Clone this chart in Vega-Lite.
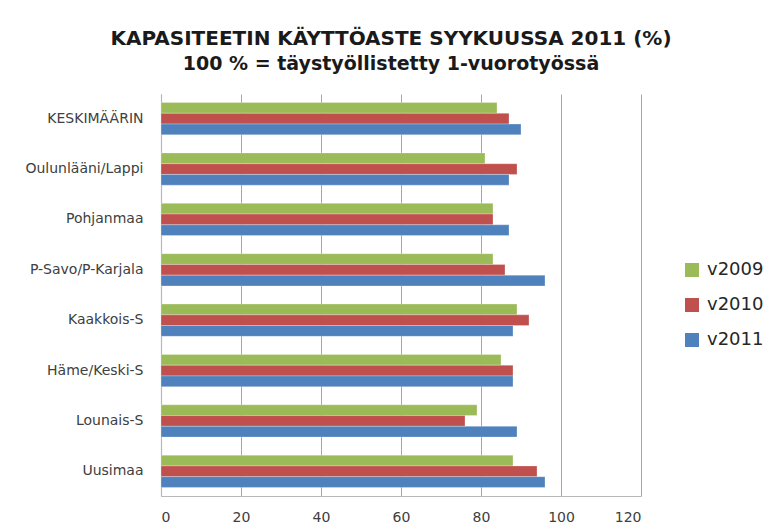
{
  "$schema": "https://vega.github.io/schema/vega-lite/v6.json",
  "autosize": {"type": "none"},
  "width": 480,
  "height": 402,
  "padding": {"left": 161, "top": 94, "right": 137, "bottom": 31},
  "background": "white",
  "title": {
    "text": "KAPASITEETIN KÄYTTÖASTE SYYKUUSSA 2011 (%)",
    "subtitle": "100 % = täystyöllistetty 1-vuorotyössä",
    "font": "DejaVu Sans",
    "fontSize": 20,
    "fontWeight": "bold",
    "color": "#1a1a1a",
    "subtitleFont": "DejaVu Sans",
    "subtitleFontSize": 19,
    "subtitleFontWeight": "bold",
    "subtitleColor": "#1a1a1a",
    "subtitlePadding": 6,
    "anchor": "middle",
    "dx": -10,
    "offset": 20
  },
  "data": {
    "values": [
      {"alue": "KESKIMÄÄRIN", "vuosi": "v2009", "arvo": 84},
      {"alue": "KESKIMÄÄRIN", "vuosi": "v2010", "arvo": 87},
      {"alue": "KESKIMÄÄRIN", "vuosi": "v2011", "arvo": 90},
      {"alue": "Oulunlääni/Lappi", "vuosi": "v2009", "arvo": 81},
      {"alue": "Oulunlääni/Lappi", "vuosi": "v2010", "arvo": 89},
      {"alue": "Oulunlääni/Lappi", "vuosi": "v2011", "arvo": 87},
      {"alue": "Pohjanmaa", "vuosi": "v2009", "arvo": 83},
      {"alue": "Pohjanmaa", "vuosi": "v2010", "arvo": 83},
      {"alue": "Pohjanmaa", "vuosi": "v2011", "arvo": 87},
      {"alue": "P-Savo/P-Karjala", "vuosi": "v2009", "arvo": 83},
      {"alue": "P-Savo/P-Karjala", "vuosi": "v2010", "arvo": 86},
      {"alue": "P-Savo/P-Karjala", "vuosi": "v2011", "arvo": 96},
      {"alue": "Kaakkois-S", "vuosi": "v2009", "arvo": 89},
      {"alue": "Kaakkois-S", "vuosi": "v2010", "arvo": 92},
      {"alue": "Kaakkois-S", "vuosi": "v2011", "arvo": 88},
      {"alue": "Häme/Keski-S", "vuosi": "v2009", "arvo": 85},
      {"alue": "Häme/Keski-S", "vuosi": "v2010", "arvo": 88},
      {"alue": "Häme/Keski-S", "vuosi": "v2011", "arvo": 88},
      {"alue": "Lounais-S", "vuosi": "v2009", "arvo": 79},
      {"alue": "Lounais-S", "vuosi": "v2010", "arvo": 76},
      {"alue": "Lounais-S", "vuosi": "v2011", "arvo": 89},
      {"alue": "Uusimaa", "vuosi": "v2009", "arvo": 88},
      {"alue": "Uusimaa", "vuosi": "v2010", "arvo": 94},
      {"alue": "Uusimaa", "vuosi": "v2011", "arvo": 96}
    ]
  },
  "mark": {"type": "bar", "stroke": "white", "strokeOpacity": 0.35, "strokeWidth": 0.8},
  "encoding": {
    "y": {
      "field": "alue",
      "type": "nominal",
      "sort": ["KESKIMÄÄRIN", "Oulunlääni/Lappi", "Pohjanmaa", "P-Savo/P-Karjala", "Kaakkois-S", "Häme/Keski-S", "Lounais-S", "Uusimaa"],
      "scale": {"paddingInner": 0.36, "paddingOuter": 0.17},
      "axis": {
        "title": null,
        "labelFont": "DejaVu Sans",
        "labelFontSize": 14,
        "labelColor": "#404040",
        "labelPadding": 18,
        "ticks": false,
        "domainColor": "#b8b8b8",
        "domainWidth": 1.2,
        "grid": false
      }
    },
    "yOffset": {
      "field": "vuosi",
      "type": "nominal",
      "sort": ["v2009", "v2010", "v2011"]
    },
    "x": {
      "field": "arvo",
      "type": "quantitative",
      "scale": {"domain": [0, 120], "nice": false},
      "axis": {
        "title": null,
        "values": [0, 20, 40, 60, 80, 100, 120],
        "labelFont": "DejaVu Sans",
        "labelFontSize": 14,
        "labelColor": "#404040",
        "labelPadding": 14,
        "ticks": false,
        "domainColor": "#b8b8b8",
        "domainWidth": 1.2,
        "grid": true,
        "gridColor": "#a6a6a6",
        "gridWidth": 1
      }
    },
    "color": {
      "field": "vuosi",
      "type": "nominal",
      "scale": {"domain": ["v2009", "v2010", "v2011"], "range": ["#9BBB59", "#C0504D", "#4F81BD"]},
      "legend": {
        "title": null,
        "orient": "none",
        "legendX": 522,
        "legendY": 167,
        "symbolType": "square",
        "symbolSize": 196,
        "symbolStrokeWidth": 0,
        "labelFont": "DejaVu Sans",
        "labelFontSize": 18,
        "labelColor": "#262626",
        "rowPadding": 17,
        "labelOffset": 6
      }
    }
  },
  "config": {
    "view": {"stroke": null}
  }
}
